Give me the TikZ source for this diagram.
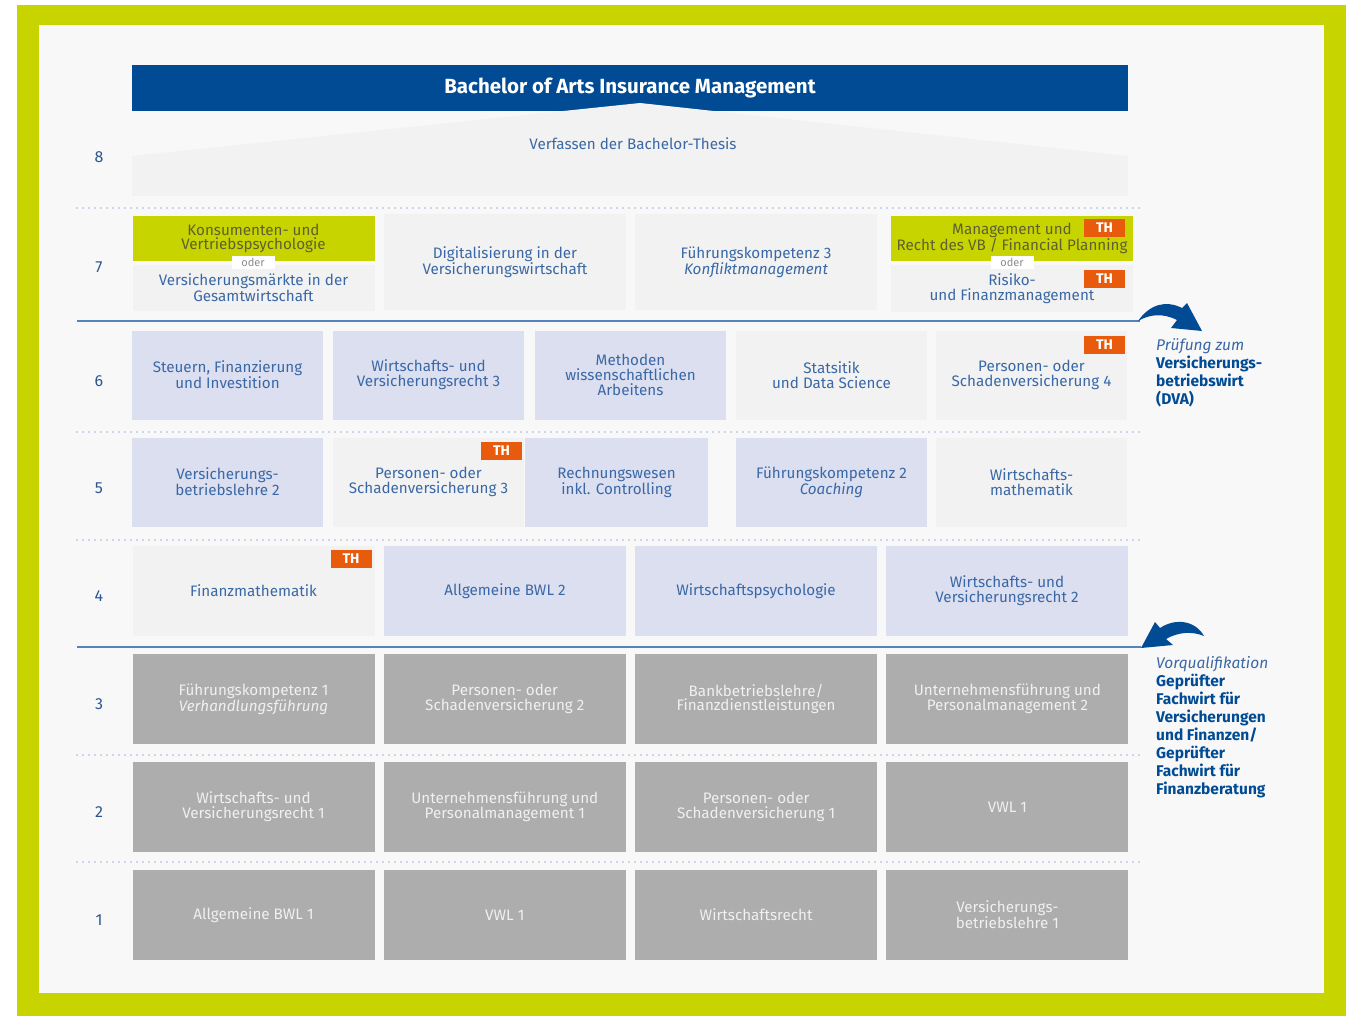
\documentclass[tikz,border=0pt]{standalone}
\usepackage{fontspec}
\setmainfont{Fira Sans}
\usetikzlibrary{positioning}
\definecolor{frame}{HTML}{C8D400}
\definecolor{panel}{HTML}{F8F8F8}
\definecolor{boxgrey}{HTML}{F2F2F2}
\definecolor{lila}{HTML}{DCDFF0}
\definecolor{dunkel}{HTML}{ADADAD}
\definecolor{hblue}{HTML}{004B93}
\definecolor{txtblue}{HTML}{3A68A6}
\definecolor{numblue}{HTML}{2A5792}
\definecolor{dotblue}{HTML}{9DB7DA}
\definecolor{lineblue}{HTML}{5683BE}
\definecolor{thorange}{HTML}{E85A0C}
\definecolor{gelbtext}{HTML}{5E6030}
\definecolor{odertext}{HTML}{8C8C8C}
\tikzset{
  modul/.style={inner sep=0pt, minimum height=90pt, align=center, text=txtblue,
    font=\fontsize{15.2}{14.8}\selectfont},
  grau/.style={modul, fill=boxgrey},
  lilabox/.style={modul, fill=lila},
  gelb/.style={modul, fill=frame, text=gelbtext, minimum height=45pt, minimum width=242pt},
  dunkelbox/.style={modul, fill=dunkel, text=white!94!black, minimum width=242pt},
  th/.style={inner sep=0pt, fill=thorange, text=white, minimum width=41pt, minimum height=18pt,
    font=\bfseries\fontsize{14}{14}\selectfont},
  oder/.style={inner sep=0pt, fill=white, text=odertext, minimum width=43pt, minimum height=13pt,
    font=\fontsize{11}{11}\selectfont},
  semnr/.style={text=numblue, font=\fontsize{16}{16}\selectfont},
  trenner/.style={draw=dotblue, line width=1.6pt, dash pattern=on 0pt off 6pt, line cap=round},
  stufe/.style={draw=lineblue, line width=1.5pt},
  swoosh/.style={fill=hblue},
  hinweis/.style={inner sep=0pt, anchor=north west, align=left, text=hblue,
    font=\bfseries\fontsize{15.5}{18}\selectfont}
}
\begin{document}
\begin{tikzpicture}[x=1pt,y=-1pt]
\useasboundingbox (0,0) rectangle (1351,1016);
\fill[frame] (17,5) rectangle (1346,1016);
\fill[panel] (39,25) rectangle (1324,993);

\node[fill=hblue, text=white, inner sep=0pt, minimum width=996pt, minimum height=46pt,
  font=\bfseries\fontsize{20.5}{20.5}\selectfont] (titel) at (630,88) {Bachelor of Arts Insurance Management};
\fill[boxgrey] (132,196) -- (132,156) -- (640,103) -- (1128,156) -- (1128,196) -- cycle;
\node[modul, minimum height=0pt] (thesis) at (633,144) {Verfassen der Bachelor-Thesis};

\foreach \s/\y in {8/157,7/267,6/381,5/488,4/596,3/704,2/812,1/920}
  \node[semnr] (nr\s) at (99,\y) {\s};

\foreach \y in {208,432,540,755,862}
  \draw[trenner] (77,\y) -- (1143,\y);
\draw[stufe] (77,321) -- (1140,321);
\draw[stufe] (77,647) -- (1141,647);

% Semester 7
\node[gelb] (s7-1a) at (253.5,238.5) {Konsumenten- und\\Vertriebspsychologie};
\node[grau, minimum width=242pt, minimum height=46pt] (s7-1b) at (253.5,288) {Versicherungsmärkte in der\\Gesamtwirtschaft};
\node[oder] (oder1) at (253,262.5) {oder};
\node[grau, minimum width=242pt, minimum height=95pt] (s7-2) at (505,262) {Digitalisierung in der\\Versicherungswirtschaft};
\node[grau, minimum width=242pt, minimum height=95pt] (s7-3) at (756,262) {Führungskompetenz 3\\\textit{Konfliktmanagement}};
\node[gelb] (s7-4a) at (1012,238.5) {Management und\\Recht des VB / Financial Planning};
\node[grau, minimum width=242pt, minimum height=46pt] (s7-4b) at (1012,288.5) {Risiko-\\und Finanzmanagement};
\node[oder] (oder2) at (1012,262.5) {oder};
\node[th] (th1) at (1104.5,228) {TH};
\node[th] (th2) at (1104.5,279) {TH};

% Semester 6
\node[lilabox, minimum width=191pt, minimum height=89pt] (s6-1) at (227.5,375) {Steuern, Finanzierung\\und Investition};
\node[lilabox, minimum width=191pt, minimum height=89pt] (s6-2) at (428.5,375) {Wirtschafts- und\\Versicherungsrecht 3};
\node[lilabox, minimum width=191pt, minimum height=89pt] (s6-3) at (630.5,375) {Methoden\\wissenschaftlichen\\Arbeitens};
\node[grau, minimum width=191pt, minimum height=89pt] (s6-4) at (831.5,375) {Statsitik\\und Data Science};
\node[grau, minimum width=191pt, minimum height=89pt] (s6-5) at (1031.5,375) {Personen- oder\\Schadenversicherung 4};
\node[th] (th3) at (1104.5,345) {TH};

% Semester 5
\node[lilabox, minimum width=191pt, minimum height=89pt] (s5-1) at (227.5,482) {Versicherungs-\\betriebslehre 2};
\node[grau, minimum width=191pt, minimum height=89pt] (s5-2) at (428.5,482) {Personen- oder\\Schadenversicherung 3};
\node[lilabox, minimum width=183pt, minimum height=89pt] (s5-3) at (616.5,482) {Rechnungswesen\\inkl. Controlling};
\node[lilabox, minimum width=191pt, minimum height=89pt] (s5-4) at (831.5,482) {Führungskompetenz 2\\\textit{Coaching}};
\node[grau, minimum width=191pt, minimum height=89pt] (s5-5) at (1031.5,482) {Wirtschafts-\\mathematik};
\node[th] (th4) at (501.5,451) {TH};

% Semester 4
\node[grau, minimum width=242pt] (s4-1) at (253.5,591) {Finanzmathematik};
\node[lilabox, minimum width=242pt] (s4-2) at (505,591) {Allgemeine BWL 2};
\node[lilabox, minimum width=242pt] (s4-3) at (756,591) {Wirtschaftspsychologie};
\node[lilabox, minimum width=242pt] (s4-4) at (1007,591) {Wirtschafts- und\\Versicherungsrecht 2};
\node[th] (th5) at (351,559) {TH};

% Semester 1-3
\foreach \t [count=\i] in {{Führungskompetenz 1\\\textit{Verhandlungsführung}},{Personen- oder\\Schadenversicherung 2},
    {Bankbetriebslehre/\\Finanzdienstleistungen},{Unternehmensführung und\\Personalmanagement 2}}
  \node[dunkelbox] (s3-\i) at ({253.5+251.3*(\i-1)},699) {\t};
\foreach \t [count=\i] in {{Wirtschafts- und\\Versicherungsrecht 1},{Unternehmensführung und\\Personalmanagement 1},
    {Personen- oder\\Schadenversicherung 1},{VWL 1}}
  \node[dunkelbox] (s2-\i) at ({253.5+251.3*(\i-1)},807) {\t};
\foreach \t [count=\i] in {{Allgemeine BWL 1},{VWL 1},{Wirtschaftsrecht},{Versicherungs-\\betriebslehre 1}}
  \node[dunkelbox] (s1-\i) at ({253.5+251.3*(\i-1)},915) {\t};

% Pfeile
\fill[swoosh] (1138,321) .. controls (1150,304) and (1166,300) .. (1182,308)
  -- (1187,303) -- (1202,331) -- (1171,328) -- (1177,320)
  .. controls (1163,313) and (1150,314) .. (1138,321) -- cycle;
\fill[swoosh] (1141,648) -- (1155,622) -- (1160,628)
  .. controls (1175,618) and (1195,620) .. (1204,636)
  .. controls (1192,631) and (1178,632) .. (1166,639) -- (1173,645) -- cycle;

\node[hinweis] (pruefung) at (1156,338) {{\color{txtblue}\mdseries\itshape Prüfung zum}\\Versicherungs-\\betriebswirt\\(DVA)};
\node[hinweis] (vorquali) at (1156,656) {{\color{txtblue}\mdseries\itshape Vorqualifikation}\\Geprüfter\\Fachwirt für\\Versicherungen\\und Finanzen/\\Geprüfter\\Fachwirt für\\Finanzberatung};
\end{tikzpicture}
\end{document}
